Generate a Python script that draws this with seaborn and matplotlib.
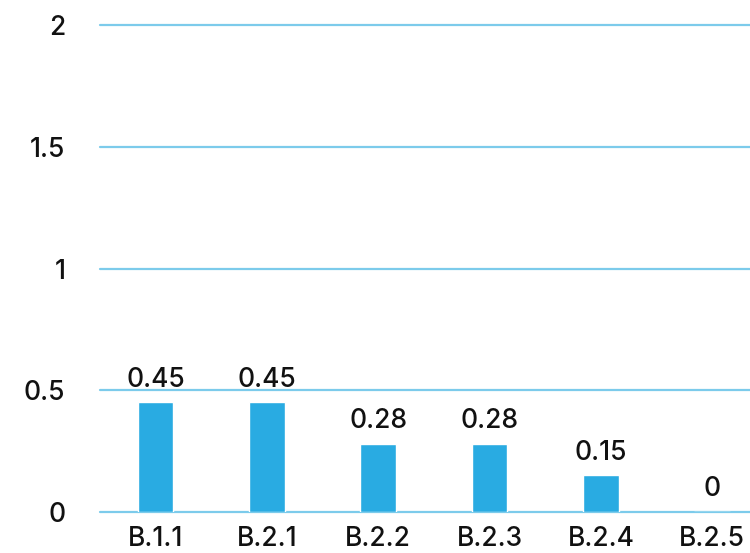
import matplotlib
matplotlib.use("Agg")
import matplotlib.pyplot as plt
import seaborn as sns
import pandas as pd

categories = ["B.1.1", "B.2.1", "B.2.2", "B.2.3", "B.2.4", "B.2.5"]
values = [0.45, 0.45, 0.28, 0.28, 0.15, 0]
y_ticks = [0, 0.5, 1, 1.5, 2]
y_tick_labels = ["0", "0.5", "1", "1.5", "2"]

sns.set_theme(style="white")
plt.rcParams["font.family"] = ["Inter", "DejaVu Sans"]

bar_color = "#29ABE2"
grid_color = "#7CCBEB"
text_color = "#111111"
fsize = 19

df = pd.DataFrame({"category": categories, "value": values})

fig = plt.figure(figsize=(7.5, 5.53), dpi=100)
ax = fig.add_axes([0.1333, 0.0741, 0.8667, 0.8807])

sns.barplot(data=df, x="category", y="value", color=bar_color,
            width=0.32, saturation=1, ax=ax, zorder=3)

ax.set_ylim(0, 2)
ax.set_xlim(-0.5, 5.34)
ax.set_yticks(y_ticks)
ax.set_yticklabels(y_tick_labels)
for y in y_ticks:
    ax.axhline(y, color=grid_color, lw=1.6, zorder=1, clip_on=False)

for i, v in enumerate(values):
    ax.annotate(f"{v:g}", (i, v), xytext=(0, 7), textcoords="offset points",
                ha="center", va="bottom", fontsize=fsize, fontweight="medium",
                color=text_color)

ax.set_xlabel("")
ax.set_ylabel("")
for s in ax.spines.values():
    s.set_visible(False)
ax.tick_params(axis="y", length=0, pad=25, labelsize=fsize, labelcolor=text_color)
ax.tick_params(axis="x", length=0, pad=10, labelsize=fsize, labelcolor=text_color)
for lbl in ax.get_xticklabels() + ax.get_yticklabels():
    lbl.set_fontweight("medium")

fig.savefig("out.png", dpi=100)
